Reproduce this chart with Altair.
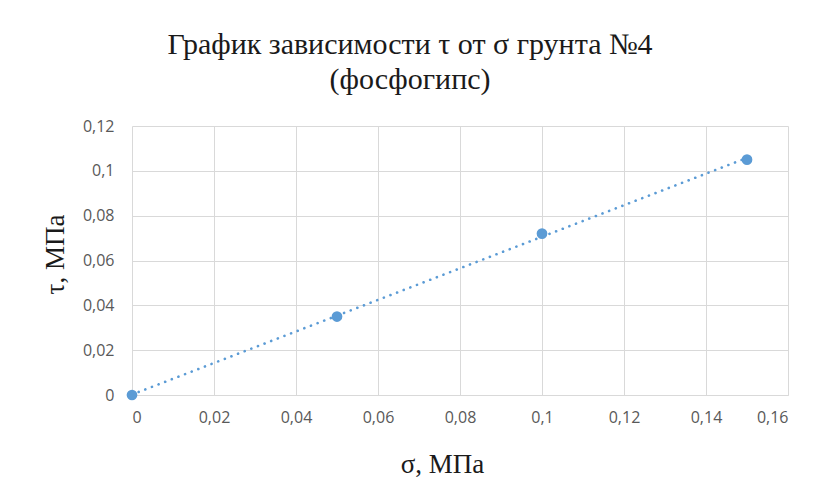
import altair as alt
import pandas as pd

# Data
sigma = [0.0, 0.05, 0.10, 0.15]          # σ, MPa
tau = [0.0, 0.035, 0.072, 0.105]         # τ, MPa
x_ticks = [0, 0.02, 0.04, 0.06, 0.08, 0.10, 0.12, 0.14, 0.16]
y_ticks = [0, 0.02, 0.04, 0.06, 0.08, 0.10, 0.12]
title_lines = ["График зависимости τ от σ грунта №4", "(фосфогипс)"]
x_title = "σ, МПа"
y_title = "τ, МПа"

df = pd.DataFrame({"sigma": sigma, "tau": tau})

BLUE = "#5B9BD5"
GRID = "#d9d9d9"
LABEL = "#595959"
SERIF = "Liberation Serif"
TEXT = "#1a1a1a"
LABEL_EXPR = "replace(format(datum.value, '.2~f'), '.', ',')"

x_enc = alt.X(
    "sigma:Q",
    scale=alt.Scale(domain=[0, 0.16], nice=False),
    axis=alt.Axis(
        values=x_ticks,
        labelExpr=LABEL_EXPR,
        title=x_title,
        titleX=310,
        titleY=77,
        titleBaseline="alphabetic",
    ),
)
y_enc = alt.Y(
    "tau:Q",
    scale=alt.Scale(domain=[0, 0.12], nice=False),
    axis=alt.Axis(
        values=y_ticks,
        labelExpr=LABEL_EXPR,
        title=y_title,
        titleX=-69,
        titleY=128,
        titleBaseline="alphabetic",
        domain=False,
    ),
)

base = alt.Chart(df)

trend = base.transform_regression("sigma", "tau", method="linear").mark_line(
    color=BLUE, strokeWidth=2.6, strokeDash=[0.1, 7], strokeCap="round"
).encode(x=x_enc, y=y_enc)

points = base.mark_circle(size=115, color=BLUE, opacity=1).encode(x=x_enc, y=y_enc)

chart = (
    alt.layer(trend, points)
    .properties(
        width=656,
        height=269,
        autosize=alt.AutoSizeParams(type="none"),
        padding={"left": 124, "top": 118, "right": 20, "bottom": 92},
        title=alt.TitleParams(
            text=title_lines[0],
            subtitle=title_lines[1],
            font=SERIF,
            fontSize=30,
            fontWeight="normal",
            color=TEXT,
            subtitleFont=SERIF,
            subtitleFontSize=30,
            subtitleFontWeight="normal",
            subtitleColor=TEXT,
            subtitlePadding=5,
            anchor="middle",
            frame="group",
            dx=-50,
            offset=23,
        ),
    )
    .configure_view(strokeWidth=0)
    .configure_axis(
        grid=True,
        gridColor=GRID,
        gridWidth=1,
        ticks=False,
        domainColor=GRID,
        domainWidth=1,
        labelFont="Open Sans",
        labelFontSize=16,
        labelColor=LABEL,
        titleFont=SERIF,
        titleFontSize=27,
        titleFontWeight="normal",
        titleColor=TEXT,
    )
    .configure_axisX(labelPadding=14)
    .configure_axisY(labelPadding=18)
)

chart.save("out.html", embed_options={"renderer": "svg", "actions": False})
